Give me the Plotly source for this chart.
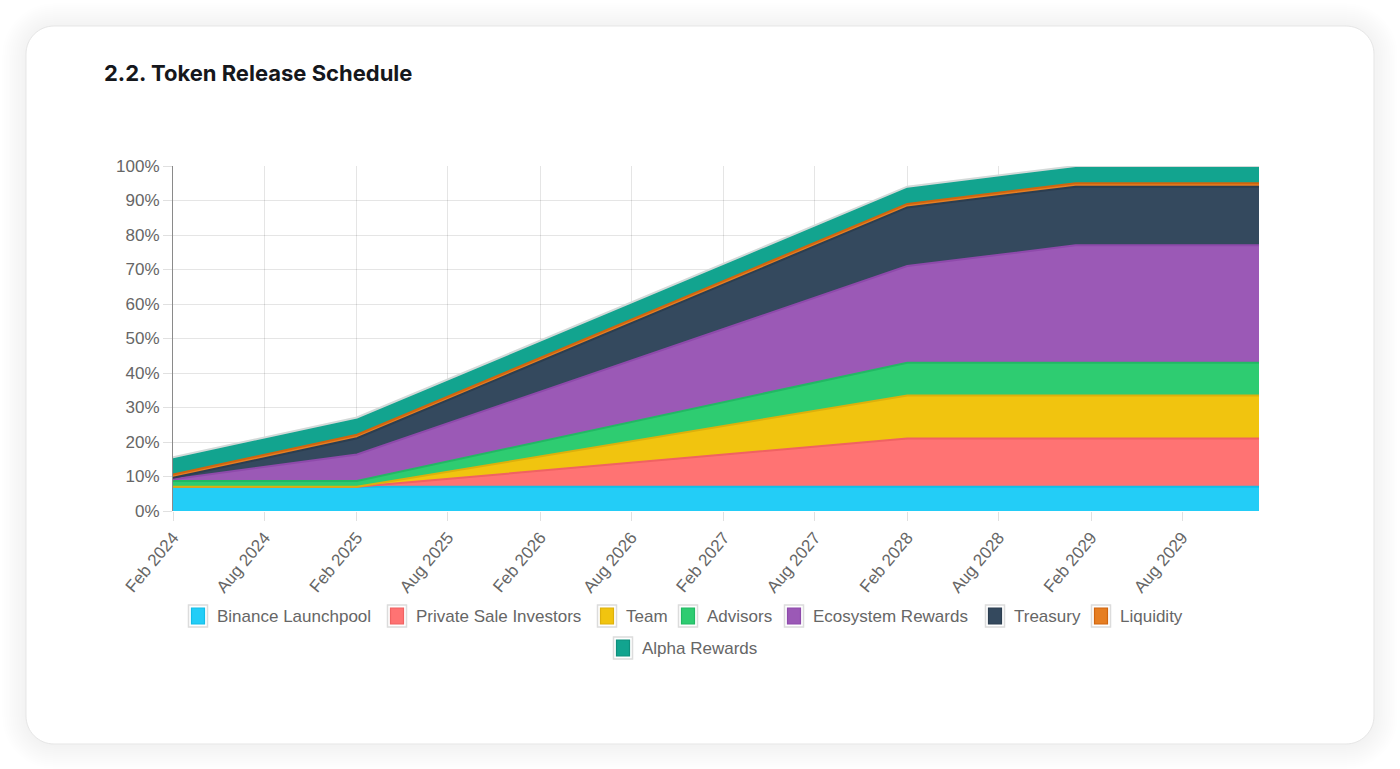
import plotly.graph_objects as go

# ---------------- data ----------------
dates = ["2024-02-01", "2025-02-01", "2028-02-01", "2029-01-01", "2030-01-01"]
series_names = ["Binance Launchpool", "Private Sale Investors", "Team", "Advisors",
                "Ecosystem Rewards", "Treasury", "Liquidity", "Alpha Rewards"]
binance = [7, 7, 7, 7, 7]
private_sale = [0, 0, 14, 14, 14]
team = [0, 0, 12.5, 12.5, 12.5]
advisors = [1.7, 1.7, 9.5, 9.5, 9.5]
ecosystem = [0.5, 7.7, 28, 34, 34]
treasury = [0.4, 4.7, 17, 17, 17]
liquidity = [1, 1, 1, 1, 1]
alpha = [5, 5, 5, 5, 5]
series_values = [binance, private_sale, team, advisors, ecosystem, treasury, liquidity, alpha]

fill_colors = ["#23CDF7", "#FF7373", "#F1C40F", "#2ECC71", "#9B59B6", "#34495E", "#E67E22", "#12A48F"]
line_colors = ["#14BDE8", "#F06262", "#DDB00C", "#22B864", "#8E4AAB", "#2C3E50", "#D0650F", "#D3D9D8"]

title_text = "2.2. Token Release Schedule"

# ---------------- geometry helpers ----------------
W, H = 1400, 769
PL, PR, PT, PB = 173, 1259, 166, 511


def px(x, y):
    return (x - PL) / (PR - PL), (PB - y) / (PB - PT)


def rrect_path(x0, y0, x1, y1, r):
    k = 0.5523 * r

    def P(x, y):
        a, b = px(x, y)
        return f"{a:.5f},{b:.5f}"

    d = f"M{P(x0 + r, y0)} L{P(x1 - r, y0)} "
    d += f"C{P(x1 - r + k, y0)} {P(x1, y0 + r - k)} {P(x1, y0 + r)} "
    d += f"L{P(x1, y1 - r)} "
    d += f"C{P(x1, y1 - r + k)} {P(x1 - r + k, y1)} {P(x1 - r, y1)} "
    d += f"L{P(x0 + r, y1)} "
    d += f"C{P(x0 + r - k, y1)} {P(x0, y1 - r + k)} {P(x0, y1 - r)} "
    d += f"L{P(x0, y0 + r)} "
    d += f"C{P(x0, y0 + r - k)} {P(x0 + r - k, y0)} {P(x0 + r, y0)} Z"
    return d


fig = go.Figure()

for name, vals, fc, lc in zip(series_names, series_values, fill_colors, line_colors):
    fig.add_trace(go.Scatter(
        x=dates, y=vals, name=name, mode="lines",
        stackgroup="one", fillcolor=fc,
        line=dict(color=lc, width=2),
        showlegend=False,
        hovertemplate="%{y:.1f}%<extra>" + name + "</extra>",
    ))

shapes = []
# card shadow
for i in range(12, 0, -1):
    e = i * 2.0
    shapes.append(dict(type="path", xref="paper", yref="paper", layer="below",
                       path=rrect_path(26 - e, 26 - e + 1, 1374 + e, 744 + e + 1, 28 + e),
                       fillcolor="rgba(0,0,0,0.0055)", line=dict(width=0)))
shapes.append(dict(type="path", xref="paper", yref="paper", layer="below",
                   path=rrect_path(26, 26, 1374, 744, 28),
                   fillcolor="white", line=dict(color="#e6e6e6", width=1)))

# custom legend
legend_items = [
    (0, 190, 616), (1, 389, 616), (2, 599, 616), (3, 680, 616),
    (4, 786, 616), (5, 987, 616), (6, 1093, 616), (7, 615, 648),
]
annotations = []
for idx, bx, cy in legend_items:
    x0, y0 = px(bx - 1.5, cy - 11)
    x1, y1 = px(bx + 17.5, cy + 11)
    shapes.append(dict(type="rect", xref="paper", yref="paper", x0=x0, y0=y0, x1=x1, y1=y1,
                       fillcolor="rgba(0,0,0,0)", line=dict(color="#dcdcdc", width=1.5)))
    x0, y0 = px(bx + 1.5, cy - 8)
    x1, y1 = px(bx + 14.5, cy + 8)
    shapes.append(dict(type="rect", xref="paper", yref="paper", x0=x0, y0=y0, x1=x1, y1=y1,
                       fillcolor=fill_colors[idx],
                       line=dict(color=line_colors[idx] if idx != 7 else "#0E8F7C", width=1.2)))
    tx, ty = px(bx + 24.5, cy)
    annotations.append(dict(xref="paper", yref="paper", x=tx, y=ty, xanchor="left", yanchor="middle",
                            text=series_names[idx], showarrow=False,
                            font=dict(family="Liberation Sans, Arial, sans-serif", size=17, color="#666666")))

tx, ty = px(102, 73)
annotations.append(dict(xref="paper", yref="paper", x=tx, y=ty, xanchor="left", yanchor="middle",
                        text="<b>" + title_text + "</b>", showarrow=False,
                        font=dict(family="Inter, Noto Sans, sans-serif", size=22, color="#15171c")))

fig.update_layout(
    width=W, height=H,
    margin=dict(l=PL, r=W - PR, t=PT, b=H - PB, pad=0),
    paper_bgcolor="white", plot_bgcolor="rgba(0,0,0,0)",
    shapes=shapes, annotations=annotations,
    showlegend=False,
    font=dict(family="Liberation Sans, Arial, sans-serif", size=17, color="#666666"),
    xaxis=dict(
        type="date", range=["2024-02-01", "2030-01-01"],
        tick0="2024-02-01", dtick="M6", tickformat="%b %Y", tickangle=-50,
        showgrid=True, gridcolor="rgba(0,0,0,0.1)", gridwidth=1,
        ticks="outside", ticklen=9, tickcolor="rgba(0,0,0,0.12)",
        showline=False, zeroline=False,
        tickfont=dict(size=17, color="#666666"),
    ),
    yaxis=dict(
        range=[0, 100], dtick=10, tick0=0, ticksuffix="%",
        showgrid=True, gridcolor="rgba(0,0,0,0.1)", gridwidth=1,
        ticks="outside", ticklen=9, tickcolor="rgba(0,0,0,0.12)",
        showline=True, linecolor="#8a8a8a", linewidth=1,
        zeroline=False,
        tickfont=dict(size=17, color="#666666"),
    ),
)

fig.write_html("out.html")
